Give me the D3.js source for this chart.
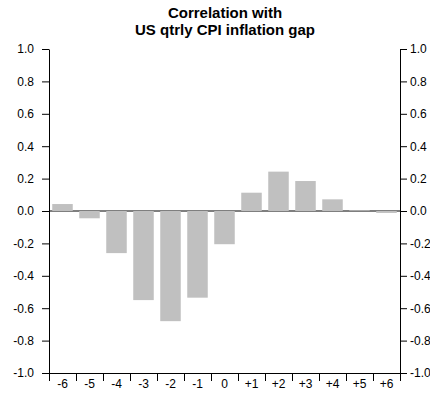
<!DOCTYPE html>
<html>
<head>
<meta charset="utf-8">
<script src="https://cdn.jsdelivr.net/npm/d3@7"></script>
<style>
  html, body { margin: 0; padding: 0; background: #fff; }
  svg { display: block; font-family: "Liberation Sans", Arial, sans-serif; }
</style>
</head>
<body>
<svg id="chart" width="430" height="402"></svg>
<script>
const categories = ["-6","-5","-4","-3","-2","-1","0","+1","+2","+3","+4","+5","+6"];
const values = [0.043, -0.045, -0.26, -0.55, -0.68, -0.535, -0.205, 0.113, 0.243, 0.185, 0.072, 0.004, -0.012];
const yTicks = [1.0, 0.8, 0.6, 0.4, 0.2, 0.0, -0.2, -0.4, -0.6, -0.8, -1.0];
const titleLines = ["Correlation with", "US qtrly CPI inflation gap"];

const svg = d3.select("#chart");
const L = 49, R = 400, T = 49, B = 373;

const x = d3.scaleBand().domain(categories).range([L, R]).paddingInner(0.24).paddingOuter(0.12);
const y = d3.scaleLinear().domain([-1, 1]).range([B, T]);
const fmt = d => d.toFixed(1);

// title
svg.append("text").attr("x", 225).attr("y", 18).attr("text-anchor", "middle")
  .attr("font-weight", "bold").attr("font-size", 15).text(titleLines[0]);
svg.append("text").attr("x", 225).attr("y", 35).attr("text-anchor", "middle")
  .attr("font-weight", "bold").attr("font-size", 15).text(titleLines[1]);

// zero line
svg.append("line").attr("x1", L).attr("x2", R).attr("y1", y(0)).attr("y2", y(0))
  .attr("stroke", "#000").attr("stroke-width", 1.2);

// bars
svg.append("g").selectAll("rect").data(values).join("rect")
  .attr("x", (d, i) => x(categories[i]))
  .attr("width", x.bandwidth())
  .attr("y", d => Math.min(y(d), y(0)))
  .attr("height", d => Math.abs(y(d) - y(0)))
  .attr("fill", "#c0c0c0");

// left axis
svg.append("g").attr("transform", `translate(${L},0)`)
  .call(d3.axisLeft(y).tickValues(yTicks).tickFormat(fmt).tickSize(7).tickSizeOuter(0).tickPadding(8));
// right axis
svg.append("g").attr("transform", `translate(${R},0)`)
  .call(d3.axisRight(y).tickValues(yTicks).tickFormat(fmt).tickSize(7).tickSizeOuter(0).tickPadding(3));

// bottom axis: boundary ticks
const idx = d3.scaleLinear().domain([0, categories.length]).range([L, R]);
svg.append("g").attr("transform", `translate(0,${B})`)
  .call(d3.axisBottom(idx).tickValues(d3.range(0, categories.length + 1)).tickFormat("").tickSize(8).tickSizeOuter(0));
// bottom axis: labels centered in bands
const xl = svg.append("g").attr("transform", `translate(0,${B})`)
  .call(d3.axisBottom(x).tickSize(0).tickPadding(6));
xl.select(".domain").remove();

svg.selectAll(".tick text").attr("font-size", 12).attr("fill", "#000")
  .attr("font-family", "\"Liberation Sans\", Arial, sans-serif");
svg.selectAll(".domain, .tick line").attr("stroke", "#000");
</script>
</body>
</html>
